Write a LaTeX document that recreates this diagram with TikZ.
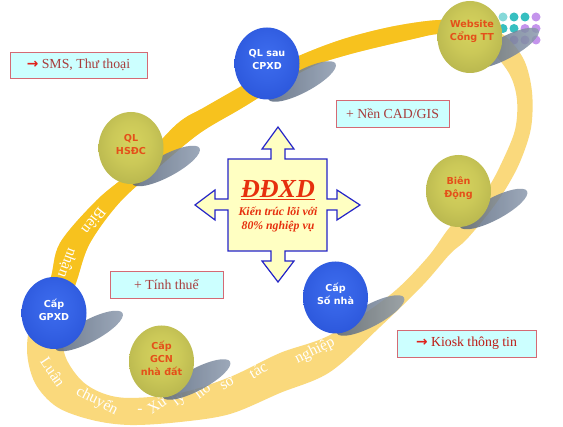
\documentclass[tikz,border=0pt]{standalone}
\usepackage{fontspec}
\setmainfont{Liberation Serif}
\newfontfamily\ballfont{DejaVu Sans}
\usetikzlibrary{shapes.geometric}

\definecolor{ringdeep}{HTML}{F7C21E}
\definecolor{ringpale}{HTML}{FAD97C}
\definecolor{bluein}{HTML}{3D6CEE}
\definecolor{blueout}{HTML}{1E46CC}
\definecolor{olivein}{HTML}{D6D35E}
\definecolor{oliveout}{HTML}{9E9D40}
\definecolor{shdA}{HTML}{55647A}
\definecolor{shdB}{HTML}{8E9CB0}
\definecolor{boxfill}{HTML}{CCFFFF}
\definecolor{boxline}{HTML}{D46A74}
\definecolor{boxtext}{HTML}{A83C3C}
\definecolor{arrred}{HTML}{E0201A}
\definecolor{crossfill}{HTML}{FFFFC2}
\definecolor{crossline}{HTML}{2424C8}
\definecolor{titlered}{HTML}{E6300E}
\definecolor{orangetxt}{HTML}{E4501A}
\definecolor{dotteal}{HTML}{36BFC0}
\definecolor{dotlav}{HTML}{C494EC}

\pgfdeclareradialshading{blueballshade}{\pgfpoint{0bp}{5bp}}{color(0bp)=(bluein); color(15bp)=(bluein!75!blueout); color(50bp)=(blueout); color(70bp)=(blueout)}
\pgfdeclareradialshading{oliveballshade}{\pgfpoint{0bp}{5bp}}{color(0bp)=(olivein); color(15bp)=(olivein!80!oliveout); color(50bp)=(oliveout); color(70bp)=(oliveout)}

\def\outerring{plot[smooth cycle, tension=0.55] coordinates {(395,26) (440,20) (478,23) (505,36) (524,60) (532,92) (531,128) (520,162) (505,190) (488,214) (466,240) (450,254) (423,285) (380,327) (330,372) (280,393) (230,414) (180,422) (130,425) (92,420) (57,407) (35,383) (27,350) (33,312) (50,280) (60,243) (97,200) (135,168) (177,124) (205,107) (240,87) (275,67) (313,50) (350,37)}}
\def\innerring{plot[smooth cycle, tension=0.55] coordinates {(413,39) (440,34) (470,38) (492,52) (510,75) (517,100) (515,130) (502,162) (488,188) (468,212) (450,227) (427,258) (390,295) (330,335) (280,353) (230,377) (180,393) (130,398) (102,393) (80,379) (64,352) (66,315) (77,280) (90,243) (120,202) (160,166) (200,133) (242,108) (305,70) (347,55)}}

\newcommand{\redarrow}{\textcolor{arrred}{{\ballfont\bfseries →}}}

\begin{document}
\begin{tikzpicture}[x=1pt,y=-1pt,
  boxstyle/.style={draw=boxline, line width=0.8pt, fill=boxfill, inner sep=0pt,
    font=\fontsize{13.8}{14}\selectfont, text=boxtext},
  ballblue/.style={ellipse, shading=blueballshade, minimum width=65pt, minimum height=72pt, inner sep=0pt},
  ballolive/.style={ellipse, shading=oliveballshade, minimum width=65pt, minimum height=72pt, inner sep=0pt},
  balltext/.style={align=center, inner sep=0pt, font=\fontsize{9.6}{12.8}\selectfont\ballfont\bfseries},
  bluetext/.style={balltext, text=white},
  olivetext/.style={balltext, text=orangetxt},
  shadowshape/.style={left color=shdA, right color=shdB, fill opacity=0.85},
  dotstyle/.style={inner sep=0pt, circle, minimum size=9pt},
  ringword/.style={text=white, inner sep=0pt, font=\fontsize{15.5}{16}\selectfont}
]
\useasboundingbox (0,0) rectangle (563,427);
\fill[white] (0,0) rectangle (563,427);

% dots
\node[dotstyle, fill=dotteal!60] (d11) at (503,17) {};
\node[dotstyle, fill=dotteal] (d12) at (514,17) {};
\node[dotstyle, fill=dotteal] (d13) at (525,17) {};
\node[dotstyle, fill=dotlav] (d14) at (536,17) {};
\node[dotstyle, fill=dotteal] (d21) at (503,28.5) {};
\node[dotstyle, fill=dotteal] (d22) at (514,28.5) {};
\node[dotstyle, fill=dotlav] (d23) at (525,28.5) {};
\node[dotstyle, fill=dotlav] (d24) at (536,28.5) {};
\node[dotstyle, fill=dotlav] (d31) at (503,40) {};
\node[dotstyle, fill=dotlav] (d32) at (514,40) {};
\node[dotstyle, fill=dotlav] (d33) at (525,40) {};
\node[dotstyle, fill=dotlav] (d34) at (536,40) {};

% ring
\fill[ringpale, even odd rule] \outerring \innerring;
\begin{scope}
  \clip (-10,354) -- (573,-20) -- (573,-60) -- (-10,-60) -- cycle;
  \fill[ringdeep, even odd rule] \outerring \innerring;
\end{scope}

% ring words
\node[ringword, rotate=-128] (w1) at (94,221) {Biên};
\node[ringword, rotate=-111] (w2) at (67,263) {nhận};
\node[ringword, rotate=-56] (w3) at (53,372) {Luân};
\node[ringword, rotate=-27] (w4) at (97,401) {chuyển};
\node[ringword] (w5) at (140,411) {-};
\node[ringword, rotate=35] (w6) at (157,405) {Xử};
\node[ringword, rotate=38] (w7) at (179,400) {lý};
\node[ringword, rotate=37] (w8) at (202,390) {hồ};
\node[ringword, rotate=33] (w9) at (227,383) {sơ};
\node[ringword, rotate=30] (w10) at (258,370) {tác};
\node[ringword, rotate=26] (w11) at (315,351) {nghiệp};

% shadows
\foreach \cx/\cy in {267/63.5, 470/30, 131/148, 54/313, 161.5/361.5, 335.5/297.5, 458.5/191}{
  \shade[shadowshape, rotate around={28:(\cx+35,\cy+18)}] (\cx+35,\cy+18) ellipse [x radius=38pt, y radius=11pt];
}

% balls
\node[ballblue] (qlsau) at (267,63.5) {};
\node[bluetext] (qlsautxt) at (267,59.5) {QL sau\\CPXD};
\node[ballolive] (web) at (470,37) {};
\node[olivetext] (webtxt) at (472,31.5) {Website\\Cổng TT};
\node[ballolive] (hsdc) at (131,148) {};
\node[olivetext] (hsdctxt) at (131,144.5) {QL\\HSĐC};
\node[ballblue] (gpxd) at (54,313) {};
\node[bluetext] (gpxdtxt) at (54,309.5) {Cấp\\GPXD};
\node[ballolive] (gcn) at (161.5,361.5) {};
\node[olivetext] (gcntxt) at (161.5,358.5) {Cấp\\GCN\\nhà đất};
\node[ballblue] (sonha) at (335.5,297.5) {};
\node[bluetext] (sonhatxt) at (335.5,294) {Cấp\\Số nhà};
\node[ballolive] (biendong) at (458.5,191) {};
\node[olivetext] (biendongtxt) at (458.5,188.5) {Biên\\Động};

% boxes
\node[boxstyle, minimum width=137pt, minimum height=26pt] (sms) at (78.5,65)
  {\redarrow\ SMS, Thư thoại};
\node[boxstyle, minimum width=113pt, minimum height=27pt] (cad) at (392.5,113.5)
  {+ Nền CAD/GIS};
\node[boxstyle, minimum width=113pt, minimum height=27pt] (thue) at (166.5,284.5)
  {+ Tính thuế};
\node[boxstyle, minimum width=139pt, minimum height=27pt] (kiosk) at (466.5,343.5)
  {\redarrow\ \textcolor{arrred!85!black}{Kiosk thông tin}};

% central cross arrow
\draw[crossline, line width=1.2pt, fill=crossfill, line join=miter]
  (278,127) -- (294,149) -- (285,149) -- (285,159) -- (327,159) -- (327,199) -- (337,199)
  -- (337,190) -- (360,205) -- (337,220) -- (337,210) -- (327,210) -- (327,251)
  -- (285,251) -- (285,261) -- (294,261) -- (278,282) -- (262,261) -- (271,261)
  -- (271,251) -- (228,251) -- (228,210) -- (215,210) -- (215,220) -- (195,205)
  -- (215,190) -- (215,199) -- (228,199) -- (228,159) -- (271,159) -- (271,149)
  -- (262,149) -- cycle;
\node[anchor=base, text=titlered, inner sep=0pt, font=\fontsize{26}{28}\selectfont\bfseries\itshape] (ddxd) at (278,198) {\underline{ĐĐXD}};
\node[align=center, text=titlered, inner sep=0pt, font=\fontsize{11.8}{14}\selectfont\bfseries\itshape] (arch) at (278,219) {Kiến trúc lõi với\\80\% nghiệp vụ};
\end{tikzpicture}
\end{document}
